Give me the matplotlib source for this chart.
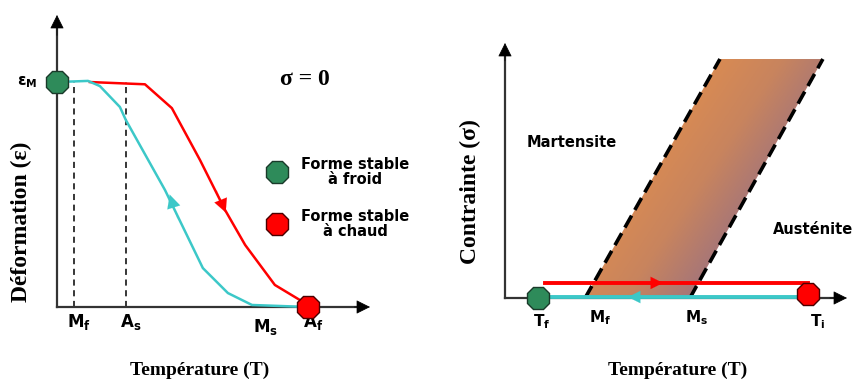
import numpy as np
import matplotlib.pyplot as plt
from matplotlib.colors import LinearSegmentedColormap
from matplotlib.patches import Polygon

# left panel: strain vs temperature (sigma = 0)
cool_T = [0, 9.9, 13.7, 20.1, 22.0, 34.5, 46.6, 54.6, 62.3, 80.2]
cool_eps = [1.0, 1.005, 0.982, 0.889, 0.831, 0.52, 0.173, 0.062, 0.009, 0.0]
heat_T = [10.5, 28.1, 36.7, 45.7, 53.7, 60.1, 69.6, 77.6, 80.2]
heat_eps = [1.0, 0.99, 0.884, 0.653, 0.431, 0.276, 0.098, 0.031, 0.0]
left_marks = ['M_f', 'A_s', 'M_s', 'A_f']
left_marks_T = [5.4, 22.0, 65.0, 80.2]

# right panel: stress vs temperature
band_left_T = [25.6, 68.7]
band_right_T = [59.1, 101.6]
band_sigma = [0, 100]
path_T = [10.5, 96.8]
heat_sigma = 6.3
right_marks = ['T_f', 'M_f', 'M_s', 'T_i']
right_marks_T = [11.8, 30.4, 61.3, 100.0]

GREEN = '#2e8b5a'
RED = '#ff0000'
CYAN = '#3cc8c8'
AXC = '#333333'
serif = 'Liberation Serif'
sans = 'DejaVu Sans'
plt.rcParams['mathtext.fontset'] = 'dejavusans'

fig = plt.figure(figsize=(8.55, 3.81), dpi=100)
W, H = 855, 381


def add_axes(x0, x1, ybot, ytop):
    ax = fig.add_axes([x0 / W, (H - ybot) / H, (x1 - x0) / W, (ybot - ytop) / H])
    ax.axis('off')
    return ax


def axis_arrows(ax, xmax, ymax):
    ax.plot([0, xmax * 0.97], [0, 0], color=AXC, lw=1.6, clip_on=False, zorder=2)
    ax.plot([0, 0], [0, ymax * 0.96], color=AXC, lw=1.6, clip_on=False, zorder=2)
    for tip, tail in [((xmax, 0), (xmax * 0.95, 0)), ((0, ymax), (0, ymax * 0.93))]:
        ax.annotate('', xy=tip, xytext=tail, annotation_clip=False,
                    arrowprops=dict(arrowstyle='-|>', color='black', lw=0.5,
                                    mutation_scale=22, shrinkA=0, shrinkB=0))


def mid_arrow(ax, tip, tail, color, scale=22):
    ax.annotate('', xy=tip, xytext=tail, annotation_clip=False, zorder=5,
                arrowprops=dict(arrowstyle='-|>', color=color, lw=0.1,
                                mutation_scale=scale, shrinkA=0, shrinkB=0))


def dot(ax, x, y, face, edge):
    ax.plot(x, y, marker='8', ms=17, mfc=face, mec=edge, mew=1, clip_on=False, zorder=6)


# ---------------- left panel ----------------
ax1 = add_axes(57, 370, 307, 15)
ax1.set_xlim(0, 100)
ax1.set_ylim(0, 1.298)
axis_arrows(ax1, 100, 1.298)

for T in left_marks_T[:2]:
    ax1.plot([T, T], [0, 1.0], color='black', lw=1.1, ls=(0, (4, 3)), zorder=1)

ax1.plot(heat_T, heat_eps, color=RED, lw=1.8, zorder=3, clip_on=False)
ax1.plot(cool_T, cool_eps, color=CYAN, lw=1.8, zorder=3, clip_on=False)
mid_arrow(ax1, (36.0, 0.50), (38.5, 0.39), CYAN, scale=24)
mid_arrow(ax1, (53.9, 0.42), (51.0, 0.52), RED, scale=24)

dot(ax1, 0, 1.0, GREEN, '#1a3a2a')
dot(ax1, 80.2, 0, RED, '#4a0000')

ax1.text(-9.6, 1.0, r'$\mathbf{\varepsilon_M}$', fontsize=11, ha='center', va='center')
for name, T in zip(left_marks, left_marks_T):
    y = -0.09 if name == 'M_s' else -0.065
    ax1.text(T + 1.5, y, r'$\mathbf{%s}_{\mathbf{%s}}$' % tuple(name.split('_')),
             fontsize=12, ha='center', va='center')

ax1.text(79.2, 1.01, 'σ = 0', family=serif, fontweight='bold',
         fontsize=17, ha='center', va='center')
dot(ax1, 70.3, 0.6, GREEN, '#1a3a2a')
dot(ax1, 70.3, 0.369, RED, '#4a0000')
ax1.text(95.2, 0.6, 'Forme stable\nà froid', family=sans, fontweight='bold', fontsize=10.5,
         ha='center', va='center', linespacing=1.0)
ax1.text(95.2, 0.369, 'Forme stable\nà chaud', family=sans, fontweight='bold', fontsize=10.5,
         ha='center', va='center', linespacing=1.0)

ax1.text(45.7, -0.28, 'Température (T)', family=serif, fontweight='bold', fontsize=14,
         ha='center', va='center')
ax1.text(-11.2, 0.378, 'Déformation (ε)', family=serif, fontweight='bold', fontsize=17,
         ha='center', va='center', rotation=90)

# ---------------- right panel ----------------
ax2 = add_axes(505, 847, 298, 43)
ax2.set_xlim(0, 109.3)
ax2.set_ylim(0, 106.7)
axis_arrows(ax2, 109.3, 106.7)

poly = Polygon([(band_left_T[0], band_sigma[0]), (band_left_T[1], band_sigma[1]),
                (band_right_T[1], band_sigma[1]), (band_right_T[0], band_sigma[0])],
               closed=True, facecolor='none', edgecolor='none')
ax2.add_patch(poly)
gx, gy = np.meshgrid(np.linspace(band_left_T[0], band_right_T[1], 200),
                     np.linspace(0, 100, 200))
shade = 0.75 * (gx - band_left_T[0]) / (band_right_T[1] - band_left_T[0]) + 0.5 * (1 - gy / 100)
cmap = LinearSegmentedColormap.from_list('band', ['#e6904a', '#c8845e', '#8a6a8e'])
im = ax2.imshow(shade, extent=(band_left_T[0], band_right_T[1], 0, 100), origin='lower',
                cmap=cmap, vmin=0.25, vmax=1.0, aspect='auto', zorder=1)
im.set_clip_path(poly)
ax2.set_xlim(0, 109.3)
ax2.set_ylim(0, 106.7)

ax2.plot(band_left_T, band_sigma, color='black', lw=2.6, ls=(0, (3.8, 1.8)), zorder=2)
ax2.plot(band_right_T, band_sigma, color='black', lw=2.6, ls=(0, (3.8, 1.8)), zorder=2)

ax2.plot([12.8, path_T[1]], [heat_sigma, heat_sigma], color=RED, lw=2.8, zorder=3)
ax2.plot(path_T, [0.4, 0.4], color=CYAN, lw=2.8, zorder=3, clip_on=False)
mid_arrow(ax2, (50.5, heat_sigma), (45.0, heat_sigma), RED, scale=22)
mid_arrow(ax2, (39.3, 0.4), (45.0, 0.4), CYAN, scale=22)

dot(ax2, path_T[0], 0, GREEN, '#1a3a2a')
dot(ax2, path_T[1], 1.6, RED, '#4a0000')

ax2.text(21.4, 64.9, 'Martensite', family=sans, fontweight='bold', fontsize=10.5, ha='center', va='center')
ax2.text(98.4, 28.5, 'Austénite', family=sans, fontweight='bold', fontsize=10.5, ha='center', va='center')
for name, T in zip(right_marks, right_marks_T):
    y = -8.4 if name.startswith('M') else -10.0
    ax2.text(T, y, r'$\mathbf{%s}_{\mathbf{%s}}$' % tuple(name.split('_')),
             fontsize=11, ha='center', va='center')

ax2.text(55.3, -30.1, 'Température (T)', family=serif, fontweight='bold', fontsize=14,
         ha='center', va='center')
ax2.text(-11.2, 44.4, 'Contrainte (σ)', family=serif, fontweight='bold', fontsize=17,
         ha='center', va='center', rotation=90)

fig.savefig('out.png', dpi=100)
